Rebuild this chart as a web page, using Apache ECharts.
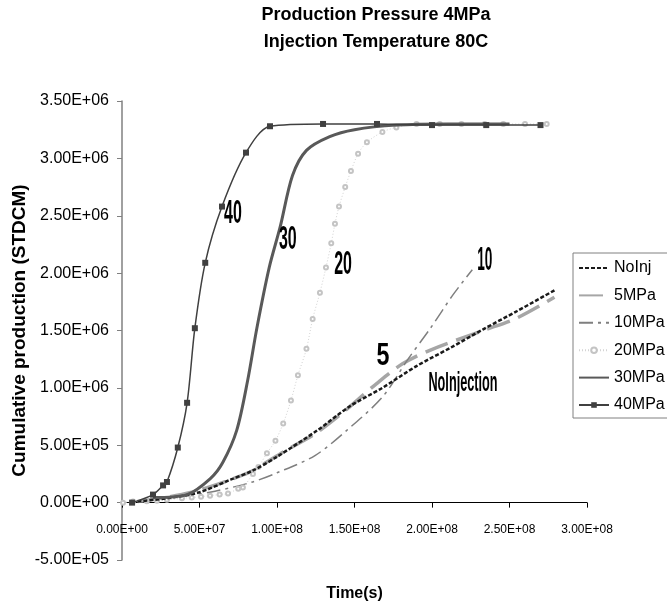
<!DOCTYPE html>
<html>
<head>
<meta charset="utf-8">
<script src="https://cdn.jsdelivr.net/npm/echarts@6/dist/echarts.min.js"></script>
<style>html,body{margin:0;padding:0;background:#fff;}#c{width:667px;height:604px;}</style>
</head>
<body>
<div id="c"></div>
<script>
// ---- data (time in s, cumulative production in STDCM) ----
const seriesNames = ['NoInj', '5MPa', '10MPa', '20MPa', '30MPa', '40MPa'];

const tNoInj = [1.0e7, 3.0e7, 5.0e7, 7.0e7, 8.45e7, 1.0e8, 1.26e8, 1.47e8, 1.68e8, 1.9e8, 2.12e8, 2.33e8, 2.55e8, 2.79e8];
const vNoInj = [1.0e4, 4.0e4, 9.0e4, 2.0e5, 2.8e5, 4.0e5, 6.3e5, 8.4e5, 1.0e6, 1.19e6, 1.35e6, 1.51e6, 1.67e6, 1.85e6];

const t5 = [1.0e7, 3.0e7, 4.5e7, 5.5e7, 7.2e7, 8.45e7, 1.05e8, 1.245e8, 1.42e8, 1.645e8, 1.81e8, 1.99e8, 2.33e8, 2.55e8, 2.79e8];
const v5 = [1.0e4, 5.0e4, 9.0e4, 1.3e5, 2.1e5, 2.8e5, 4.5e5, 6.0e5, 7.8e5, 1.04e6, 1.21e6, 1.33e6, 1.5e6, 1.61e6, 1.79e6];

const t10 = [2.0e7, 4.2e7, 6.0e7, 8.3e7, 1.0e8, 1.245e8, 1.45e8, 1.68e8, 1.84e8, 1.99e8, 2.135e8, 2.26e8];
const v10 = [4.0e4, 6.0e4, 1.0e5, 1.75e5, 2.6e5, 4.1e5, 6.3e5, 9.2e5, 1.24e6, 1.52e6, 1.81e6, 2.03e6];

const t20 = [0.65e6, 7.1e6, 1.6e7, 2.26e7, 2.9e7, 3.87e7, 4.5e7, 5.1e7, 5.68e7, 6.3e7, 6.84e7, 7.5e7, 7.8e7, 8.45e7, 8.8e7, 9.35e7, 9.9e7, 1.04e8, 1.09e8, 1.135e8, 1.19e8, 1.23e8, 1.277e8, 1.316e8, 1.35e8, 1.374e8, 1.40e8, 1.44e8, 1.477e8, 1.523e8, 1.58e8, 1.68e8, 1.77e8, 1.90e8, 2.05e8, 2.19e8, 2.34e8, 2.46e8, 2.60e8, 2.74e8];
const v20 = [0, 9e3, 1.1e4, 1.7e4, 2.6e4, 3.8e4, 4.4e4, 5.2e4, 6.1e4, 7.0e4, 7.9e4, 1.22e5, 1.31e5, 2.5e5, 3.1e5, 4.3e5, 5.4e5, 6.9e5, 8.9e5, 1.11e6, 1.34e6, 1.6e6, 1.83e6, 2.05e6, 2.26e6, 2.43e6, 2.58e6, 2.75e6, 2.89e6, 3.04e6, 3.14e6, 3.23e6, 3.27e6, 3.30e6, 3.30e6, 3.30e6, 3.30e6, 3.30e6, 3.30e6, 3.30e6];

const t30 = [2.0e7, 4.2e7, 5.7e7, 6.5e7, 7.4e7, 8.1e7, 8.7e7, 9.5e7, 1.02e8, 1.10e8, 1.19e8, 1.34e8, 1.50e8, 1.77e8, 2.1e8, 2.5e8];
const v30 = [4.4e4, 7.0e4, 2.1e5, 3.5e5, 6.3e5, 1.06e6, 1.52e6, 2.05e6, 2.4e6, 2.85e6, 3.07e6, 3.19e6, 3.25e6, 3.29e6, 3.30e6, 3.30e6];

const t40 = [6.5e6, 2.0e7, 2.65e7, 2.9e7, 3.6e7, 4.2e7, 4.7e7, 5.37e7, 6.45e7, 8.0e7, 9.55e7, 1.297e8, 1.645e8, 2.0e8, 2.35e8, 2.70e8];
const v40 = [0, 7.0e4, 1.5e5, 1.8e5, 4.8e5, 8.7e5, 1.52e6, 2.09e6, 2.58e6, 3.05e6, 3.28e6, 3.30e6, 3.30e6, 3.29e6, 3.29e6, 3.29e6];

// axis ticks
const xMin = 0, xMax = 3.0e8, xStep = 5.0e7;
const yMin = -5.0e5, yMax = 3.5e6, yStep = 5.0e5;

// in-plot annotations: [text, time, value]
const annoText = ['40', '30', '20', '10', '5', 'NoInjection'];
const annoT = [7.16e7, 1.07e8, 1.426e8, 2.34e8, 1.684e8, 2.2e8];
const annoV = [2.52e6, 2.29e6, 2.07e6, 2.11e6, 1.27e6, 1.04e6];

// ---- helpers ----
function zip(t, v) { return t.map((x, i) => [x, v[i]]); }
function sci(v) {
  const s = Math.abs(v).toExponential(2).toUpperCase();
  const parts = s.split('E');
  const e = parts[1];
  return (v < 0 ? '-' : '') + parts[0] + 'E' + e[0] + e.slice(1).padStart(2, '0');
}
const SANS = '"Liberation Sans", Arial, sans-serif';
const HIDE = { color: 'rgba(0,0,0,0)', borderColor: 'rgba(0,0,0,0)', opacity: 0 };

const chart = echarts.init(document.getElementById('c'), null, { renderer: 'canvas' });

const option = {
  animation: false,
  backgroundColor: '#fff',
  title: {
    text: 'Production Pressure 4MPa\nInjection Temperature 80C',
    left: 371, top: -3, textAlign: 'center',
    textStyle: { fontFamily: SANS, fontWeight: 'bold', fontSize: 18, lineHeight: 27, color: '#000' }
  },
  legend: {
    orient: 'vertical', left: 573, top: 253,
    padding: [5, 10, 3, 5], itemGap: 7.4,
    itemWidth: 30, itemHeight: 7,
    borderColor: '#808080', borderWidth: 1, borderRadius: 0,
    backgroundColor: '#fff',
    data: [
      { name: seriesNames[0], itemStyle: HIDE },
      { name: seriesNames[1], itemStyle: HIDE },
      { name: seriesNames[2], itemStyle: HIDE },
      { name: seriesNames[3] },
      { name: seriesNames[4], itemStyle: HIDE },
      { name: seriesNames[5] }
    ],
    textStyle: { fontFamily: SANS, fontSize: 16, color: '#000', lineHeight: 20 }
  },
  grid: { left: 122, right: 80, top: 101, bottom: 44, containLabel: false, outerBoundsMode: 'none' },
  xAxis: {
    type: 'value', min: xMin, max: xMax, interval: xStep,
    name: 'Time(s)', nameLocation: 'middle', nameGap: 26,
    nameTextStyle: { fontFamily: SANS, fontWeight: 'bold', fontSize: 16, color: '#000' },
    axisLine: { onZero: true, lineStyle: { color: '#000', width: 1 } },
    axisTick: { show: true, length: 5, lineStyle: { color: '#000' } },
    axisLabel: { formatter: sci, fontFamily: SANS, fontSize: 12, color: '#000', margin: -36, showMinLabel: true, showMaxLabel: true, hideOverlap: false },
    splitLine: { show: false }
  },
  yAxis: {
    type: 'value', min: yMin, max: yMax, interval: yStep,
    name: 'Cumulative production (STDCM)', nameLocation: 'middle', nameGap: 93,
    nameMoveOverlap: false,
    nameTextStyle: { fontFamily: SANS, fontWeight: 'bold', fontSize: 19, color: '#000' },
    axisLine: { show: true, onZero: false, lineStyle: { color: '#808080', width: 1.5 } },
    axisTick: { show: true, length: 5, lineStyle: { color: '#808080' } },
    axisLabel: { formatter: sci, fontFamily: SANS, fontSize: 16, color: '#000', margin: 13, showMinLabel: true, showMaxLabel: true, hideOverlap: false },
    splitLine: { show: false }
  },
  series: [
    { name: seriesNames[0], type: 'line', data: zip(tNoInj, vNoInj), smooth: 0.3, symbol: 'none',
      lineStyle: { color: '#1a1a1a', width: 2.5, type: [4, 2] }, itemStyle: { color: '#1a1a1a' }, z: 3 },
    { name: seriesNames[1], type: 'line', data: zip(t5, v5), smooth: 0.3, symbol: 'none',
      lineStyle: { color: '#a6a6a6', width: 3.5, type: [24, 9] }, itemStyle: { color: '#a6a6a6' }, z: 2 },
    { name: seriesNames[2], type: 'line', data: zip(t10, v10), smooth: 0.3, symbol: 'none',
      lineStyle: { color: '#7f7f7f', width: 1.5, type: [14, 5, 3, 5] }, itemStyle: { color: '#7f7f7f' }, z: 2 },
    { name: seriesNames[3], type: 'line', data: zip(t20, v20), smooth: 0.3, symbol: 'emptyCircle', symbolSize: 4,
      showSymbol: true,
      lineStyle: { color: '#d4d4d4', width: 1, type: [1, 2] }, itemStyle: { color: '#c4c4c4', borderColor: '#c4c4c4', borderWidth: 1 }, z: 2 },
    { name: seriesNames[4], type: 'line', data: zip(t30, v30), smooth: 0.3, symbol: 'none',
      lineStyle: { color: '#595959', width: 3 }, itemStyle: { color: '#595959' }, z: 4 },
    { name: seriesNames[5], type: 'line', data: zip(t40, v40), smooth: 0.3, symbol: 'rect', symbolSize: 6,
      showSymbol: true,
      lineStyle: { color: '#404040', width: 1.5 }, itemStyle: { color: '#404040' }, z: 5 }
  ]
};
chart.setOption(option);

// annotations placed from data coordinates through the grid's scales
const annoStyle = {
  '40': { size: 34, sx: 0.47 }, '30': { size: 34, sx: 0.47 }, '20': { size: 34, sx: 0.47 },
  '10': { size: 34, sx: 0.40 }, '5': { size: 31, sx: 0.75 }, 'NoInjection': { size: 27, sx: 0.47 }
};
const graphics = annoText.map((txt, i) => {
  const p = chart.convertToPixel({ gridIndex: 0 }, [annoT[i], annoV[i]]);
  const st = annoStyle[txt];
  return {
    type: 'text', x: p[0], y: p[1], scaleX: st.sx, scaleY: 1, z: 100,
    style: { text: txt, x: 0, y: 0, textAlign: 'center', textVerticalAlign: 'middle',
      fontFamily: SANS, fontWeight: 'bold', fontSize: st.size, fill: '#000' }
  };
});
chart.setOption({ graphic: graphics });
</script>
</body>
</html>
